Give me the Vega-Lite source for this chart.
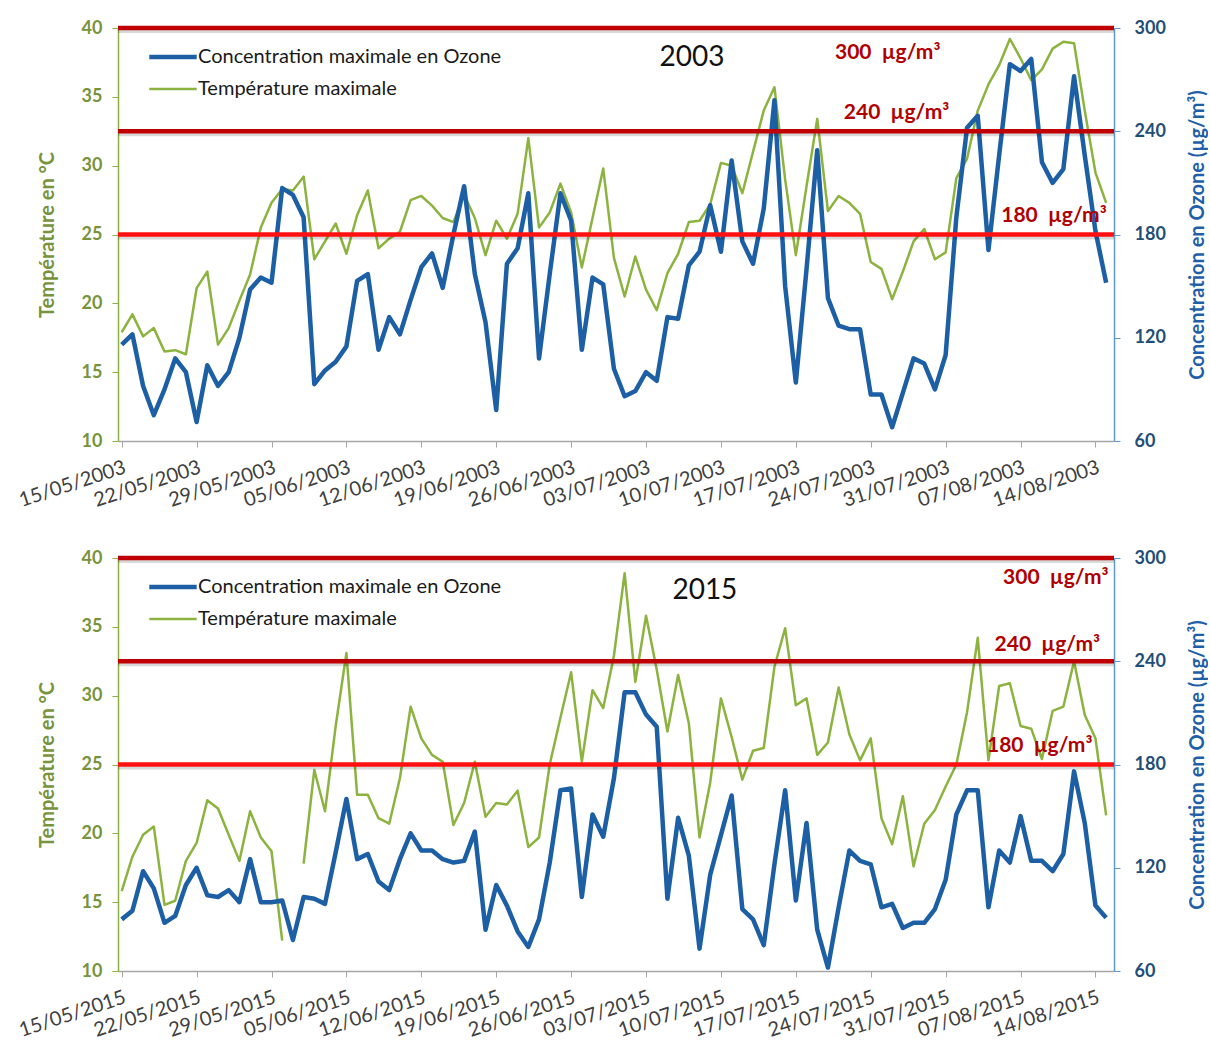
{
"$schema": "https://vega.github.io/schema/vega-lite/v6.json",
"padding": {"left": 16, "top": 19, "right": 0, "bottom": 0},
"background": "white",
"datasets": {
"y2003": [
{"date":"2003-05-15","ozone":116,"temp":17.9},{"date":"2003-05-16","ozone":122,"temp":19.2},{"date":"2003-05-17","ozone":92,"temp":17.6},{"date":"2003-05-18","ozone":75,"temp":18.2},{"date":"2003-05-19","ozone":90,"temp":16.5},{"date":"2003-05-20","ozone":108,"temp":16.6},{"date":"2003-05-21","ozone":100,"temp":16.3},{"date":"2003-05-22","ozone":71,"temp":21.1},{"date":"2003-05-23","ozone":104,"temp":22.3},{"date":"2003-05-24","ozone":92,"temp":17.0},{"date":"2003-05-25","ozone":100,"temp":18.2},{"date":"2003-05-26","ozone":120,"temp":20.2},{"date":"2003-05-27","ozone":148,"temp":22.1},{"date":"2003-05-28","ozone":155,"temp":25.5},{"date":"2003-05-29","ozone":152,"temp":27.3},{"date":"2003-05-30","ozone":207,"temp":28.3},{"date":"2003-05-31","ozone":203,"temp":28.2},
{"date":"2003-06-01","ozone":190,"temp":29.2},{"date":"2003-06-02","ozone":93,"temp":23.2},{"date":"2003-06-03","ozone":101,"temp":24.5},{"date":"2003-06-04","ozone":106,"temp":25.8},{"date":"2003-06-05","ozone":115,"temp":23.6},{"date":"2003-06-06","ozone":153,"temp":26.4},{"date":"2003-06-07","ozone":157,"temp":28.2},{"date":"2003-06-08","ozone":113,"temp":24.0},{"date":"2003-06-09","ozone":132,"temp":24.7},{"date":"2003-06-10","ozone":122,"temp":25.2},{"date":"2003-06-11","ozone":142,"temp":27.5},{"date":"2003-06-12","ozone":161,"temp":27.8},{"date":"2003-06-13","ozone":169,"temp":27.1},{"date":"2003-06-14","ozone":149,"temp":26.2},{"date":"2003-06-15","ozone":180,"temp":25.9},{"date":"2003-06-16","ozone":208,"temp":27.9},{"date":"2003-06-17","ozone":157,"temp":26.2},{"date":"2003-06-18","ozone":129,"temp":23.5},{"date":"2003-06-19","ozone":78,"temp":26.0},{"date":"2003-06-20","ozone":163,"temp":24.7},{"date":"2003-06-21","ozone":172,"temp":26.5},{"date":"2003-06-22","ozone":204,"temp":32.0},{"date":"2003-06-23","ozone":108,"temp":25.5},{"date":"2003-06-24","ozone":157,"temp":26.6},{"date":"2003-06-25","ozone":204,"temp":28.7},{"date":"2003-06-26","ozone":188,"temp":26.6},{"date":"2003-06-27","ozone":113,"temp":22.6},{"date":"2003-06-28","ozone":155,"temp":26.2},{"date":"2003-06-29","ozone":151,"temp":29.8},{"date":"2003-06-30","ozone":102,"temp":23.3},
{"date":"2003-07-01","ozone":86,"temp":20.5},{"date":"2003-07-02","ozone":89,"temp":23.4},{"date":"2003-07-03","ozone":100,"temp":21.0},{"date":"2003-07-04","ozone":95,"temp":19.5},{"date":"2003-07-05","ozone":132,"temp":22.2},{"date":"2003-07-06","ozone":131,"temp":23.6},{"date":"2003-07-07","ozone":162,"temp":25.9},{"date":"2003-07-08","ozone":170,"temp":26.0},{"date":"2003-07-09","ozone":197,"temp":27.2},{"date":"2003-07-10","ozone":170,"temp":30.2},{"date":"2003-07-11","ozone":223,"temp":30.0},{"date":"2003-07-12","ozone":176,"temp":28.0},{"date":"2003-07-13","ozone":163,"temp":31.0},{"date":"2003-07-14","ozone":195,"temp":34.0},{"date":"2003-07-15","ozone":258,"temp":35.7},{"date":"2003-07-16","ozone":150,"temp":29.0},{"date":"2003-07-17","ozone":94,"temp":23.5},{"date":"2003-07-18","ozone":160,"temp":28.5},{"date":"2003-07-19","ozone":229,"temp":33.4},{"date":"2003-07-20","ozone":143,"temp":26.7},{"date":"2003-07-21","ozone":127,"temp":27.8},{"date":"2003-07-22","ozone":125,"temp":27.3},{"date":"2003-07-23","ozone":125,"temp":26.5},{"date":"2003-07-24","ozone":87,"temp":23.0},{"date":"2003-07-25","ozone":87,"temp":22.5},{"date":"2003-07-26","ozone":68,"temp":20.3},{"date":"2003-07-27","ozone":88,"temp":22.3},{"date":"2003-07-28","ozone":108,"temp":24.5},{"date":"2003-07-29","ozone":105,"temp":25.4},{"date":"2003-07-30","ozone":90,"temp":23.2},{"date":"2003-07-31","ozone":110,"temp":23.7},
{"date":"2003-08-01","ozone":190,"temp":29.1},{"date":"2003-08-02","ozone":242,"temp":30.5},{"date":"2003-08-03","ozone":249,"temp":34.0},{"date":"2003-08-04","ozone":171,"temp":35.9},{"date":"2003-08-05","ozone":226,"temp":37.3},{"date":"2003-08-06","ozone":279,"temp":39.2},{"date":"2003-08-07","ozone":275,"temp":37.8},{"date":"2003-08-08","ozone":282,"temp":36.2},{"date":"2003-08-09","ozone":222,"temp":37.0},{"date":"2003-08-10","ozone":210,"temp":38.5},{"date":"2003-08-11","ozone":218,"temp":39.0},{"date":"2003-08-12","ozone":272,"temp":38.9},{"date":"2003-08-13","ozone":226,"temp":34.0},{"date":"2003-08-14","ozone":182,"temp":29.5},{"date":"2003-08-15","ozone":152,"temp":27.3}
],
"y2015": [
{"date":"2015-05-15","ozone":90,"temp":15.8},{"date":"2015-05-16","ozone":95,"temp":18.3},{"date":"2015-05-17","ozone":118,"temp":19.9},{"date":"2015-05-18","ozone":108,"temp":20.5},{"date":"2015-05-19","ozone":88,"temp":14.8},{"date":"2015-05-20","ozone":92,"temp":15.1},{"date":"2015-05-21","ozone":110,"temp":18.0},{"date":"2015-05-22","ozone":120,"temp":19.3},{"date":"2015-05-23","ozone":104,"temp":22.4},{"date":"2015-05-24","ozone":103,"temp":21.8},{"date":"2015-05-25","ozone":107,"temp":19.9},{"date":"2015-05-26","ozone":100,"temp":18.0},{"date":"2015-05-27","ozone":125,"temp":21.6},{"date":"2015-05-28","ozone":100,"temp":19.7},{"date":"2015-05-29","ozone":100,"temp":18.7},{"date":"2015-05-30","ozone":101,"temp":12.2},{"date":"2015-05-31","ozone":78,"temp":null},
{"date":"2015-06-01","ozone":103,"temp":17.8},{"date":"2015-06-02","ozone":102,"temp":24.6},{"date":"2015-06-03","ozone":99,"temp":21.6},{"date":"2015-06-04","ozone":129,"temp":27.8},{"date":"2015-06-05","ozone":160,"temp":33.1},{"date":"2015-06-06","ozone":125,"temp":22.8},{"date":"2015-06-07","ozone":128,"temp":22.8},{"date":"2015-06-08","ozone":112,"temp":21.1},{"date":"2015-06-09","ozone":107,"temp":20.7},{"date":"2015-06-10","ozone":125,"temp":24.0},{"date":"2015-06-11","ozone":140,"temp":29.2},{"date":"2015-06-12","ozone":130,"temp":26.9},{"date":"2015-06-13","ozone":130,"temp":25.7},{"date":"2015-06-14","ozone":125,"temp":25.2},{"date":"2015-06-15","ozone":123,"temp":20.6},{"date":"2015-06-16","ozone":124,"temp":22.2},{"date":"2015-06-17","ozone":141,"temp":25.2},{"date":"2015-06-18","ozone":84,"temp":21.2},{"date":"2015-06-19","ozone":110,"temp":22.2},{"date":"2015-06-20","ozone":98,"temp":22.1},{"date":"2015-06-21","ozone":83,"temp":23.1},{"date":"2015-06-22","ozone":74,"temp":19.0},{"date":"2015-06-23","ozone":90,"temp":19.7},{"date":"2015-06-24","ozone":123,"temp":25.0},{"date":"2015-06-25","ozone":165,"temp":28.4},{"date":"2015-06-26","ozone":166,"temp":31.7},{"date":"2015-06-27","ozone":103,"temp":25.2},{"date":"2015-06-28","ozone":151,"temp":30.4},{"date":"2015-06-29","ozone":138,"temp":29.1},{"date":"2015-06-30","ozone":172,"temp":32.9},
{"date":"2015-07-01","ozone":222,"temp":38.9},{"date":"2015-07-02","ozone":222,"temp":31.0},{"date":"2015-07-03","ozone":209,"temp":35.8},{"date":"2015-07-04","ozone":202,"temp":31.9},{"date":"2015-07-05","ozone":102,"temp":27.4},{"date":"2015-07-06","ozone":149,"temp":31.5},{"date":"2015-07-07","ozone":127,"temp":28.0},{"date":"2015-07-08","ozone":73,"temp":19.7},{"date":"2015-07-09","ozone":116,"temp":23.7},{"date":"2015-07-10","ozone":139,"temp":29.8},{"date":"2015-07-11","ozone":162,"temp":27.0},{"date":"2015-07-12","ozone":96,"temp":23.9},{"date":"2015-07-13","ozone":90,"temp":26.0},{"date":"2015-07-14","ozone":75,"temp":26.2},{"date":"2015-07-15","ozone":122,"temp":32.1},{"date":"2015-07-16","ozone":165,"temp":34.9},{"date":"2015-07-17","ozone":101,"temp":29.3},{"date":"2015-07-18","ozone":146,"temp":29.8},{"date":"2015-07-19","ozone":84,"temp":25.7},{"date":"2015-07-20","ozone":62,"temp":26.6},{"date":"2015-07-21","ozone":97,"temp":30.6},{"date":"2015-07-22","ozone":130,"temp":27.2},{"date":"2015-07-23","ozone":124,"temp":25.3},{"date":"2015-07-24","ozone":122,"temp":26.9},{"date":"2015-07-25","ozone":97,"temp":21.1},{"date":"2015-07-26","ozone":99,"temp":19.2},{"date":"2015-07-27","ozone":85,"temp":22.7},{"date":"2015-07-28","ozone":88,"temp":17.6},{"date":"2015-07-29","ozone":88,"temp":20.7},{"date":"2015-07-30","ozone":96,"temp":21.7},{"date":"2015-07-31","ozone":113,"temp":23.4},
{"date":"2015-08-01","ozone":151,"temp":25.0},{"date":"2015-08-02","ozone":165,"temp":28.8},{"date":"2015-08-03","ozone":165,"temp":34.2},{"date":"2015-08-04","ozone":97,"temp":25.3},{"date":"2015-08-05","ozone":130,"temp":30.7},{"date":"2015-08-06","ozone":123,"temp":30.9},{"date":"2015-08-07","ozone":150,"temp":27.8},{"date":"2015-08-08","ozone":124,"temp":27.6},{"date":"2015-08-09","ozone":124,"temp":25.4},{"date":"2015-08-10","ozone":118,"temp":28.9},{"date":"2015-08-11","ozone":128,"temp":29.2},{"date":"2015-08-12","ozone":176,"temp":32.5},{"date":"2015-08-13","ozone":146,"temp":28.6},{"date":"2015-08-14","ozone":98,"temp":26.9},{"date":"2015-08-15","ozone":91,"temp":21.3}
]
},
"vconcat": [
{
"width": 996, "height": 413,
"data": {"name": "y2003"},
"resolve": {"scale": {"y": "independent"}},
"layer": [
{"mark": {"type": "line", "strokeWidth": 2.5, "strokeJoin": "round"},
 "encoding": {
  "x": {"field": "date", "type": "temporal",
   "scale": {"type": "utc", "domain": [{"year":2003,"month":5,"date":14,"hours":15,"minutes":42,"utc":true},{"year":2003,"month":8,"date":15,"hours":17,"minutes":36,"utc":true}]},
   "axis": {"title": null, "grid": false, "labelExpr": "utcFormat(datum.value, '%d/%m/%Y')",
    "values": [{"year":2003,"month":5,"date":15,"utc":true},{"year":2003,"month":5,"date":22,"utc":true},{"year":2003,"month":5,"date":29,"utc":true},{"year":2003,"month":6,"date":5,"utc":true},{"year":2003,"month":6,"date":12,"utc":true},{"year":2003,"month":6,"date":19,"utc":true},{"year":2003,"month":6,"date":26,"utc":true},{"year":2003,"month":7,"date":3,"utc":true},{"year":2003,"month":7,"date":10,"utc":true},{"year":2003,"month":7,"date":17,"utc":true},{"year":2003,"month":7,"date":24,"utc":true},{"year":2003,"month":7,"date":31,"utc":true},{"year":2003,"month":8,"date":7,"utc":true},{"year":2003,"month":8,"date":14,"utc":true}],
    "labelAngle": -18, "labelAlign": "right", "labelBaseline": "top", "labelPadding": 10,
    "labelFont": "Lato", "labelFontSize": 20, "labelColor": "#404040",
    "labelOverlap": false, "labelFlush": false, "labelBound": false,
    "tickSize": 6, "tickColor": "#a6a6a6", "domainColor": "#a6a6a6", "domainWidth": 1.5}},
  "y": {"field": "temp", "type": "quantitative", "scale": {"domain": [10, 40], "nice": false, "zero": false},
   "axis": {"orient": "left", "values": [10,15,20,25,30,35,40], "grid": false,
    "labelFont": "Lato", "labelFontSize": 18, "labelFontWeight": "bold", "labelColor": "#77933c", "labelPadding": 10,
    "tickSize": 6, "tickColor": "#8db141", "domainColor": "#8db141", "domainWidth": 1.5,
    "title": "Température en °C", "titleFont": "Lato", "titleFontSize": 20, "titleFontWeight": "bold", "titleColor": "#77933c", "titlePadding": 24}},
  "color": {"datum": "Température maximale", "type": "nominal",
   "scale": {"domain": ["Concentration maximale en Ozone", "Température maximale"], "range": ["#1d5fa5", "#8cb33f"]},
   "legend": {"title": null, "orient": "none", "legendX": 30, "legendY": 13, "direction": "vertical", "padding": 0,
    "symbolType": "stroke", "symbolSize": 2250, "symbolStrokeWidth": 4, "symbolOffset": 15, "clipHeight": 32,
    "labelFont": "Lato", "labelFontSize": 20, "labelColor": "#1a1a1a", "labelOffset": 15, "labelLimit": 500, "rowPadding": 0,
    "encode": {"symbols": {"update": {"strokeWidth": {"signal": "datum.value == 'Température maximale' ? 2.5 : 4.5"}}}}}}
 }},
{"layer": [
 {"mark": {"type": "line", "strokeWidth": 4.5, "strokeJoin": "round"},
  "encoding": {
   "x": {"field": "date", "type": "temporal"},
   "y": {"field": "ozone", "type": "quantitative", "scale": {"domain": [60, 300], "nice": false, "zero": false},
    "axis": {"orient": "right", "values": [60,120,180,240,300], "grid": false,
     "labelFont": "Lato", "labelFontSize": 18, "labelFontWeight": "bold", "labelColor": "#1f4e79", "labelPadding": 14,
     "tickSize": 6, "tickColor": "#5b9bd5", "domainColor": "#5b9bd5", "domainWidth": 1.5,
     "title": "Concentration en Ozone  (µg/m³)", "titleFont": "Lato", "titleFontSize": 20, "titleFontWeight": "bold", "titleColor": "#1f5fa8",
     "titleAngle": 270, "titleBaseline": "top", "titlePadding": 22}},
   "color": {"datum": "Concentration maximale en Ozone", "type": "nominal"}
  }},
 {"data": {"values": [{}]}, "mark": {"type": "rule", "strokeWidth": 4, "color": "#000000", "opacity": 0.15, "yOffset": 3}, "encoding": {"y": {"datum": 300}}},
 {"data": {"values": [{}]}, "mark": {"type": "rule", "strokeWidth": 4, "color": "#000000", "opacity": 0.15, "yOffset": 3}, "encoding": {"y": {"datum": 240}}},
 {"data": {"values": [{}]}, "mark": {"type": "rule", "strokeWidth": 4, "color": "#000000", "opacity": 0.15, "yOffset": 3}, "encoding": {"y": {"datum": 180}}},
 {"data": {"values": [{}]}, "mark": {"type": "rule", "strokeWidth": 4.5, "color": "#c00000"}, "encoding": {"y": {"datum": 300}}},
 {"data": {"values": [{}]}, "mark": {"type": "rule", "strokeWidth": 4.5, "color": "#c00000"}, "encoding": {"y": {"datum": 240}}},
 {"data": {"values": [{}]}, "mark": {"type": "rule", "strokeWidth": 4.5, "color": "#ff1010"}, "encoding": {"y": {"datum": 180}}},
 {"data": {"values": [{}]}, "mark": {"type": "text", "text": "300\u00a0 µg/m³", "font": "Lato", "fontSize": 21, "fontWeight": "bold", "color": "#b00000", "align": "center", "baseline": "middle"},
  "encoding": {"x": {"datum": {"year":2003,"month":7,"date":25,"hours":14,"utc":true}, "type": "temporal"}, "y": {"datum": 285.4}}},
 {"data": {"values": [{}]}, "mark": {"type": "text", "text": "240\u00a0 µg/m³", "font": "Lato", "fontSize": 21, "fontWeight": "bold", "color": "#b00000", "align": "center", "baseline": "middle"},
  "encoding": {"x": {"datum": {"year":2003,"month":7,"date":26,"hours":10,"utc":true}, "type": "temporal"}, "y": {"datum": 250.8}}},
 {"data": {"values": [{}]}, "mark": {"type": "text", "text": "180\u00a0 µg/m³", "font": "Lato", "fontSize": 21, "fontWeight": "bold", "color": "#b00000", "align": "center", "baseline": "middle"},
  "encoding": {"x": {"datum": {"year":2003,"month":8,"date":10,"hours":3,"utc":true}, "type": "temporal"}, "y": {"datum": 190.5}}},
 {"data": {"values": [{}]}, "mark": {"type": "text", "text": "2003", "font": "Lato", "fontSize": 28, "color": "#111111", "align": "center", "baseline": "middle"},
  "encoding": {"x": {"datum": {"year":2003,"month":7,"date":7,"hours":7,"utc":true}, "type": "temporal"}, "y": {"datum": 282.3}}}
]}
]
},
{
"width": 996, "height": 413,
"data": {"name": "y2015"},
"resolve": {"scale": {"y": "independent"}},
"layer": [
{"mark": {"type": "line", "strokeWidth": 2.5, "strokeJoin": "round"},
 "encoding": {
  "x": {"field": "date", "type": "temporal",
   "scale": {"type": "utc", "domain": [{"year":2015,"month":5,"date":14,"hours":15,"minutes":42,"utc":true},{"year":2015,"month":8,"date":15,"hours":17,"minutes":36,"utc":true}]},
   "axis": {"title": null, "grid": false, "labelExpr": "utcFormat(datum.value, '%d/%m/%Y')",
    "values": [{"year":2015,"month":5,"date":15,"utc":true},{"year":2015,"month":5,"date":22,"utc":true},{"year":2015,"month":5,"date":29,"utc":true},{"year":2015,"month":6,"date":5,"utc":true},{"year":2015,"month":6,"date":12,"utc":true},{"year":2015,"month":6,"date":19,"utc":true},{"year":2015,"month":6,"date":26,"utc":true},{"year":2015,"month":7,"date":3,"utc":true},{"year":2015,"month":7,"date":10,"utc":true},{"year":2015,"month":7,"date":17,"utc":true},{"year":2015,"month":7,"date":24,"utc":true},{"year":2015,"month":7,"date":31,"utc":true},{"year":2015,"month":8,"date":7,"utc":true},{"year":2015,"month":8,"date":14,"utc":true}],
    "labelAngle": -18, "labelAlign": "right", "labelBaseline": "top", "labelPadding": 10,
    "labelFont": "Lato", "labelFontSize": 20, "labelColor": "#404040",
    "labelOverlap": false, "labelFlush": false, "labelBound": false,
    "tickSize": 6, "tickColor": "#a6a6a6", "domainColor": "#a6a6a6", "domainWidth": 1.5}},
  "y": {"field": "temp", "type": "quantitative", "scale": {"domain": [10, 40], "nice": false, "zero": false},
   "axis": {"orient": "left", "values": [10,15,20,25,30,35,40], "grid": false,
    "labelFont": "Lato", "labelFontSize": 18, "labelFontWeight": "bold", "labelColor": "#77933c", "labelPadding": 10,
    "tickSize": 6, "tickColor": "#8db141", "domainColor": "#8db141", "domainWidth": 1.5,
    "title": "Température en °C", "titleFont": "Lato", "titleFontSize": 20, "titleFontWeight": "bold", "titleColor": "#77933c", "titlePadding": 24}},
  "color": {"datum": "Température maximale", "type": "nominal",
   "scale": {"domain": ["Concentration maximale en Ozone", "Température maximale"], "range": ["#1d5fa5", "#8cb33f"]},
   "legend": {"title": null, "orient": "none", "legendX": 30, "legendY": 13, "direction": "vertical", "padding": 0,
    "symbolType": "stroke", "symbolSize": 2250, "symbolStrokeWidth": 4, "symbolOffset": 15, "clipHeight": 32,
    "labelFont": "Lato", "labelFontSize": 20, "labelColor": "#1a1a1a", "labelOffset": 15, "labelLimit": 500, "rowPadding": 0,
    "encode": {"symbols": {"update": {"strokeWidth": {"signal": "datum.value == 'Température maximale' ? 2.5 : 4.5"}}}}}}
 }},
{"layer": [
 {"mark": {"type": "line", "strokeWidth": 4.5, "strokeJoin": "round"},
  "encoding": {
   "x": {"field": "date", "type": "temporal"},
   "y": {"field": "ozone", "type": "quantitative", "scale": {"domain": [60, 300], "nice": false, "zero": false},
    "axis": {"orient": "right", "values": [60,120,180,240,300], "grid": false,
     "labelFont": "Lato", "labelFontSize": 18, "labelFontWeight": "bold", "labelColor": "#1f4e79", "labelPadding": 14,
     "tickSize": 6, "tickColor": "#5b9bd5", "domainColor": "#5b9bd5", "domainWidth": 1.5,
     "title": "Concentration en Ozone  (µg/m³)", "titleFont": "Lato", "titleFontSize": 20, "titleFontWeight": "bold", "titleColor": "#1f5fa8",
     "titleAngle": 270, "titleBaseline": "top", "titlePadding": 22}},
   "color": {"datum": "Concentration maximale en Ozone", "type": "nominal"}
  }},
 {"data": {"values": [{}]}, "mark": {"type": "rule", "strokeWidth": 4, "color": "#000000", "opacity": 0.15, "yOffset": 3}, "encoding": {"y": {"datum": 300}}},
 {"data": {"values": [{}]}, "mark": {"type": "rule", "strokeWidth": 4, "color": "#000000", "opacity": 0.15, "yOffset": 3}, "encoding": {"y": {"datum": 240}}},
 {"data": {"values": [{}]}, "mark": {"type": "rule", "strokeWidth": 4, "color": "#000000", "opacity": 0.15, "yOffset": 3}, "encoding": {"y": {"datum": 180}}},
 {"data": {"values": [{}]}, "mark": {"type": "rule", "strokeWidth": 4.5, "color": "#c00000"}, "encoding": {"y": {"datum": 300}}},
 {"data": {"values": [{}]}, "mark": {"type": "rule", "strokeWidth": 4.5, "color": "#c00000"}, "encoding": {"y": {"datum": 240}}},
 {"data": {"values": [{}]}, "mark": {"type": "rule", "strokeWidth": 4.5, "color": "#ff1010"}, "encoding": {"y": {"datum": 180}}},
 {"data": {"values": [{}]}, "mark": {"type": "text", "text": "300\u00a0 µg/m³", "font": "Lato", "fontSize": 21, "fontWeight": "bold", "color": "#b00000", "align": "center", "baseline": "middle"},
  "encoding": {"x": {"datum": {"year":2015,"month":8,"date":10,"hours":7,"utc":true}, "type": "temporal"}, "y": {"datum": 288.2}}},
 {"data": {"values": [{}]}, "mark": {"type": "text", "text": "240\u00a0 µg/m³", "font": "Lato", "fontSize": 21, "fontWeight": "bold", "color": "#b00000", "align": "center", "baseline": "middle"},
  "encoding": {"x": {"datum": {"year":2015,"month":8,"date":9,"hours":12,"utc":true}, "type": "temporal"}, "y": {"datum": 249.4}}},
 {"data": {"values": [{}]}, "mark": {"type": "text", "text": "180\u00a0 µg/m³", "font": "Lato", "fontSize": 21, "fontWeight": "bold", "color": "#b00000", "align": "center", "baseline": "middle"},
  "encoding": {"x": {"datum": {"year":2015,"month":8,"date":8,"hours":19,"utc":true}, "type": "temporal"}, "y": {"datum": 190.8}}},
 {"data": {"values": [{}]}, "mark": {"type": "text", "text": "2015", "font": "Lato", "fontSize": 28, "color": "#111111", "align": "center", "baseline": "middle"},
  "encoding": {"x": {"datum": {"year":2015,"month":7,"date":8,"hours":12,"utc":true}, "type": "temporal"}, "y": {"datum": 280.9}}}
]}
]
}
],
"spacing": 117,
"bounds": "flush",
"resolve": {"scale": {"x": "independent", "y": "independent", "color": "independent"}, "legend": {"color": "independent"}},
"config": {"view": {"stroke": null}, "font": "Lato", "axis": {"grid": false}}
}
